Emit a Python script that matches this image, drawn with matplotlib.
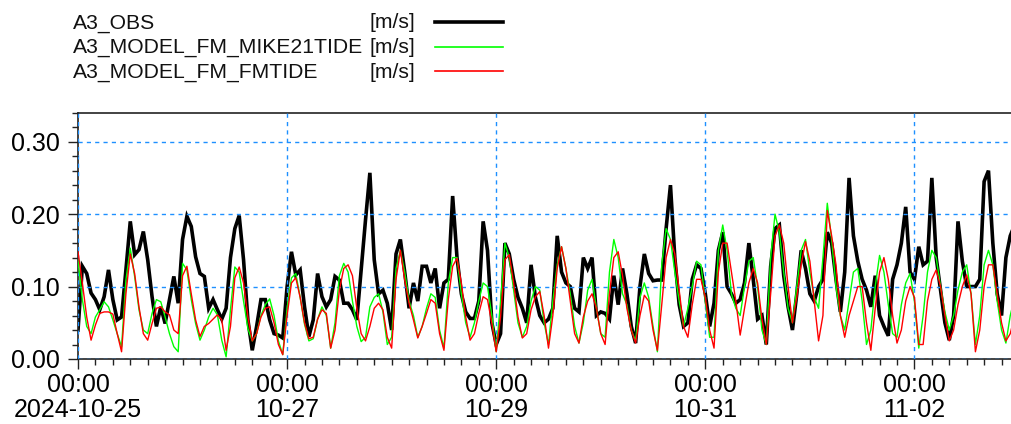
import numpy as np
import pandas as pd
import matplotlib
matplotlib.use("Agg")
import matplotlib.pyplot as plt
import matplotlib.dates as mdates
from matplotlib.lines import Line2D
from matplotlib.ticker import MultipleLocator, FixedLocator, FormatStrFormatter

plt.rcParams['font.family'] = ['Liberation Sans', 'DejaVu Sans']

# ---------------- data (hourly, starting 2024-10-25 00:00) ----------------
start_time = "2024-10-25 00:00"

obs = [
    0.040, 0.128, 0.118, 0.091, 0.082, 0.068, 0.086, 0.123, 0.082, 0.054,
    0.058, 0.123, 0.190, 0.144, 0.151, 0.176, 0.137, 0.086, 0.045, 0.072,
    0.049, 0.082, 0.114, 0.077, 0.165, 0.197, 0.183, 0.141, 0.118, 0.114,
    0.070, 0.082, 0.068, 0.055, 0.070, 0.140, 0.180, 0.198, 0.137, 0.054,
    0.012, 0.045, 0.082, 0.082, 0.054, 0.035, 0.033, 0.029, 0.100, 0.148,
    0.116, 0.123, 0.072, 0.031, 0.054, 0.118, 0.086, 0.072, 0.082, 0.114,
    0.109, 0.077, 0.077, 0.068, 0.054, 0.123, 0.192, 0.257, 0.137, 0.090,
    0.095, 0.077, 0.040, 0.145, 0.165, 0.120, 0.070, 0.105, 0.080, 0.128,
    0.128, 0.105, 0.125, 0.070, 0.105, 0.110, 0.225, 0.140, 0.090, 0.065,
    0.056, 0.056, 0.080, 0.190, 0.150, 0.050, 0.020, 0.035, 0.160, 0.145,
    0.110, 0.085, 0.070, 0.050, 0.130, 0.085, 0.060, 0.050, 0.055, 0.070,
    0.170, 0.120, 0.105, 0.100, 0.070, 0.065, 0.140, 0.125, 0.140, 0.060,
    0.065, 0.063, 0.055, 0.115, 0.075, 0.125, 0.090, 0.045, 0.022, 0.100,
    0.145, 0.118, 0.108, 0.109, 0.109, 0.180, 0.240, 0.140, 0.075, 0.045,
    0.050, 0.110, 0.130, 0.125, 0.090, 0.045, 0.077, 0.150, 0.175, 0.100,
    0.090, 0.077, 0.082, 0.105, 0.160, 0.110, 0.055, 0.060, 0.020, 0.128,
    0.180, 0.185, 0.115, 0.072, 0.040, 0.090, 0.150, 0.125, 0.090, 0.080,
    0.100, 0.110, 0.175, 0.160, 0.110, 0.065, 0.120, 0.250, 0.170, 0.135,
    0.110, 0.095, 0.072, 0.115, 0.060, 0.045, 0.032, 0.110, 0.130, 0.160,
    0.210, 0.120, 0.110, 0.155, 0.130, 0.135, 0.250, 0.140, 0.095, 0.050,
    0.026, 0.060, 0.190, 0.135, 0.100, 0.100, 0.100, 0.110, 0.245, 0.260,
    0.160, 0.090, 0.060, 0.140, 0.170, 0.185,
]

mike21tide = [
    0.137, 0.082, 0.045, 0.035, 0.058, 0.068, 0.079, 0.072, 0.054, 0.035,
    0.017, 0.109, 0.153, 0.114, 0.068, 0.040, 0.035, 0.063, 0.082, 0.079,
    0.058, 0.035, 0.017, 0.010, 0.132, 0.123, 0.082, 0.049, 0.026, 0.040,
    0.058, 0.070, 0.061, 0.026, 0.003, 0.068, 0.127, 0.120, 0.080, 0.042,
    0.025, 0.035, 0.060, 0.075, 0.083, 0.060, 0.025, 0.006, 0.070, 0.112,
    0.118, 0.085, 0.048, 0.025, 0.028, 0.055, 0.072, 0.060, 0.015, 0.050,
    0.115, 0.132, 0.120, 0.080, 0.045, 0.024, 0.030, 0.072, 0.085, 0.090,
    0.065, 0.020, 0.030, 0.125, 0.150, 0.120, 0.080, 0.060, 0.030, 0.045,
    0.070, 0.090, 0.085, 0.040, 0.015, 0.105, 0.140, 0.140, 0.090, 0.050,
    0.030, 0.050, 0.080, 0.105, 0.100, 0.060, 0.010, 0.080, 0.160, 0.140,
    0.095, 0.050, 0.030, 0.045, 0.080, 0.100, 0.095, 0.050, 0.020, 0.080,
    0.130, 0.155, 0.125, 0.090, 0.045, 0.022, 0.050, 0.095, 0.110, 0.070,
    0.035, 0.030, 0.120, 0.165, 0.140, 0.090, 0.075, 0.040, 0.025, 0.085,
    0.105, 0.085, 0.045, 0.010, 0.130, 0.180, 0.165, 0.120, 0.080, 0.045,
    0.070, 0.100, 0.135, 0.130, 0.080, 0.030, 0.030, 0.150, 0.185, 0.150,
    0.090, 0.070, 0.060, 0.100, 0.135, 0.140, 0.100, 0.040, 0.020, 0.140,
    0.200, 0.175, 0.120, 0.070, 0.050, 0.100, 0.150, 0.165, 0.120, 0.085,
    0.070, 0.140, 0.215, 0.165, 0.100, 0.060, 0.040, 0.080, 0.120, 0.125,
    0.080, 0.020, 0.040, 0.100, 0.143, 0.120, 0.075, 0.035, 0.030, 0.075,
    0.105, 0.118, 0.080, 0.015, 0.060, 0.120, 0.150, 0.140, 0.100, 0.065,
    0.040, 0.060, 0.095, 0.120, 0.130, 0.090, 0.020, 0.060, 0.130, 0.150,
    0.130, 0.080, 0.040, 0.022, 0.060, 0.085,
]

fmtide = [
    0.148, 0.105, 0.058, 0.026, 0.047, 0.063, 0.065, 0.065, 0.062, 0.035,
    0.010, 0.090, 0.145, 0.118, 0.072, 0.035, 0.026, 0.049, 0.070, 0.072,
    0.065, 0.061, 0.040, 0.035, 0.115, 0.128, 0.090, 0.054, 0.031, 0.045,
    0.049, 0.055, 0.061, 0.054, 0.012, 0.045, 0.112, 0.127, 0.105, 0.058,
    0.025, 0.035, 0.058, 0.070, 0.072, 0.050, 0.020, 0.006, 0.060, 0.105,
    0.112, 0.085, 0.050, 0.028, 0.030, 0.055, 0.068, 0.063, 0.015, 0.040,
    0.095, 0.125, 0.130, 0.115, 0.070, 0.035, 0.025, 0.045, 0.070, 0.077,
    0.068, 0.030, 0.015, 0.110, 0.150, 0.109, 0.077, 0.054, 0.029, 0.045,
    0.063, 0.082, 0.077, 0.035, 0.012, 0.082, 0.128, 0.139, 0.105, 0.058,
    0.026, 0.035, 0.063, 0.086, 0.082, 0.049, 0.010, 0.058, 0.137, 0.144,
    0.105, 0.058, 0.029, 0.035, 0.068, 0.086, 0.093, 0.060, 0.015, 0.060,
    0.125, 0.155, 0.125, 0.080, 0.035, 0.022, 0.058, 0.080, 0.090, 0.070,
    0.035, 0.020, 0.090, 0.140, 0.148, 0.115, 0.070, 0.040, 0.022, 0.060,
    0.088, 0.080, 0.040, 0.012, 0.075, 0.140, 0.165, 0.145, 0.095, 0.045,
    0.030, 0.075, 0.110, 0.110, 0.085, 0.040, 0.015, 0.120, 0.160, 0.160,
    0.120, 0.080, 0.033, 0.070, 0.105, 0.125, 0.105, 0.055, 0.020, 0.090,
    0.170, 0.185, 0.160, 0.100, 0.050, 0.085, 0.130, 0.162, 0.135, 0.080,
    0.025, 0.060, 0.205, 0.170, 0.130, 0.060, 0.030, 0.060, 0.080, 0.100,
    0.100, 0.050, 0.012, 0.070, 0.120, 0.140, 0.110, 0.060, 0.022, 0.040,
    0.080, 0.100, 0.085, 0.020, 0.020, 0.080, 0.110, 0.123, 0.100, 0.060,
    0.025, 0.040, 0.075, 0.100, 0.116, 0.090, 0.010, 0.040, 0.100, 0.130,
    0.130, 0.090, 0.050, 0.025, 0.035, 0.060,
]

series_names = ["A3_OBS", "A3_MODEL_FM_MIKE21TIDE", "A3_MODEL_FM_FMTIDE"]
series_units = ["[m/s]", "[m/s]", "[m/s]"]
x_tick_labels = ["00:00\n2024-10-25", "00:00\n10-27", "00:00\n10-29",
                 "00:00\n10-31", "00:00\n11-02"]
view_hours = 214.4

# ---------------- figure ----------------
W, H, DPI = 1012, 424, 100
fig = plt.figure(figsize=(W / DPI, H / DPI), dpi=DPI)
ax = fig.add_axes([78 / W, 1 - 359 / H, 1 - 78 / W, (359 - 112.7) / H])

t = pd.date_range(start_time, periods=len(obs), freq="h")
colors = ["#000000", "#00FF00", "#FF0000"]
widths = [2.6, 1.0, 1.0]

ax.plot(t, mike21tide, color=colors[1], lw=widths[1], zorder=3)
ax.plot(t, fmtide, color=colors[2], lw=widths[2], zorder=4)
ax.plot(t, obs, color=colors[0], lw=widths[0], zorder=2,
        solid_joinstyle="miter")

t0 = pd.Timestamp(start_time)
ax.set_xlim(t0, t0 + pd.Timedelta(hours=view_hours))
ax.set_ylim(0, 0.34)

major_x = pd.date_range(t0, periods=len(x_tick_labels), freq="48h")
minor_x = pd.date_range(t0, t0 + pd.Timedelta(hours=view_hours), freq="4h")
ax.xaxis.set_major_locator(FixedLocator(mdates.date2num(major_x)))
ax.xaxis.set_minor_locator(FixedLocator(mdates.date2num(minor_x)))
ax.set_xticklabels(x_tick_labels, linespacing=1.08)

ax.yaxis.set_major_locator(MultipleLocator(0.1))
ax.yaxis.set_minor_locator(MultipleLocator(0.02))
ax.yaxis.set_major_formatter(FormatStrFormatter("%.2f"))

ax.tick_params(axis="both", which="major", length=7, width=1,
               labelsize=18, color="#222222")
ax.tick_params(axis="both", which="minor", length=4.5, width=1,
               color="#222222")
ax.tick_params(axis="x", which="major", pad=3)
ax.tick_params(axis="y", which="major", pad=6)

for s in ["left", "bottom", "top"]:
    ax.spines[s].set_color("#222222")
    ax.spines[s].set_linewidth(1.2)
ax.spines["right"].set_visible(False)

ax.grid(True, which="major", color="#1E90FF", linestyle=(0, (3, 3)),
        linewidth=1.0)
ax.set_axisbelow(False)
for gl in ax.get_xgridlines() + ax.get_ygridlines():
    gl.set_zorder(1)

# ---------------- legend block ----------------
rows_y = [28.3, 53.2, 78.1]
line_y = [21.7, 46.7, 70.7]
for name, unit, c, lw, yb, yl in zip(series_names, series_units, colors,
                                     [2.6, 1.2, 1.2], rows_y, line_y):
    fig.text(73 / W, 1 - yb / H, name, fontsize=15.2, ha="left",
             va="baseline", color="#111111")
    fig.text(370 / W, 1 - yb / H, unit, fontsize=15.2, ha="left",
             va="baseline", color="#111111")
    fig.add_artist(Line2D([435 / W, 503 / W], [1 - yl / H, 1 - yl / H],
                          color=c, lw=lw, transform=fig.transFigure))

fig.savefig("out.png", dpi=DPI)
